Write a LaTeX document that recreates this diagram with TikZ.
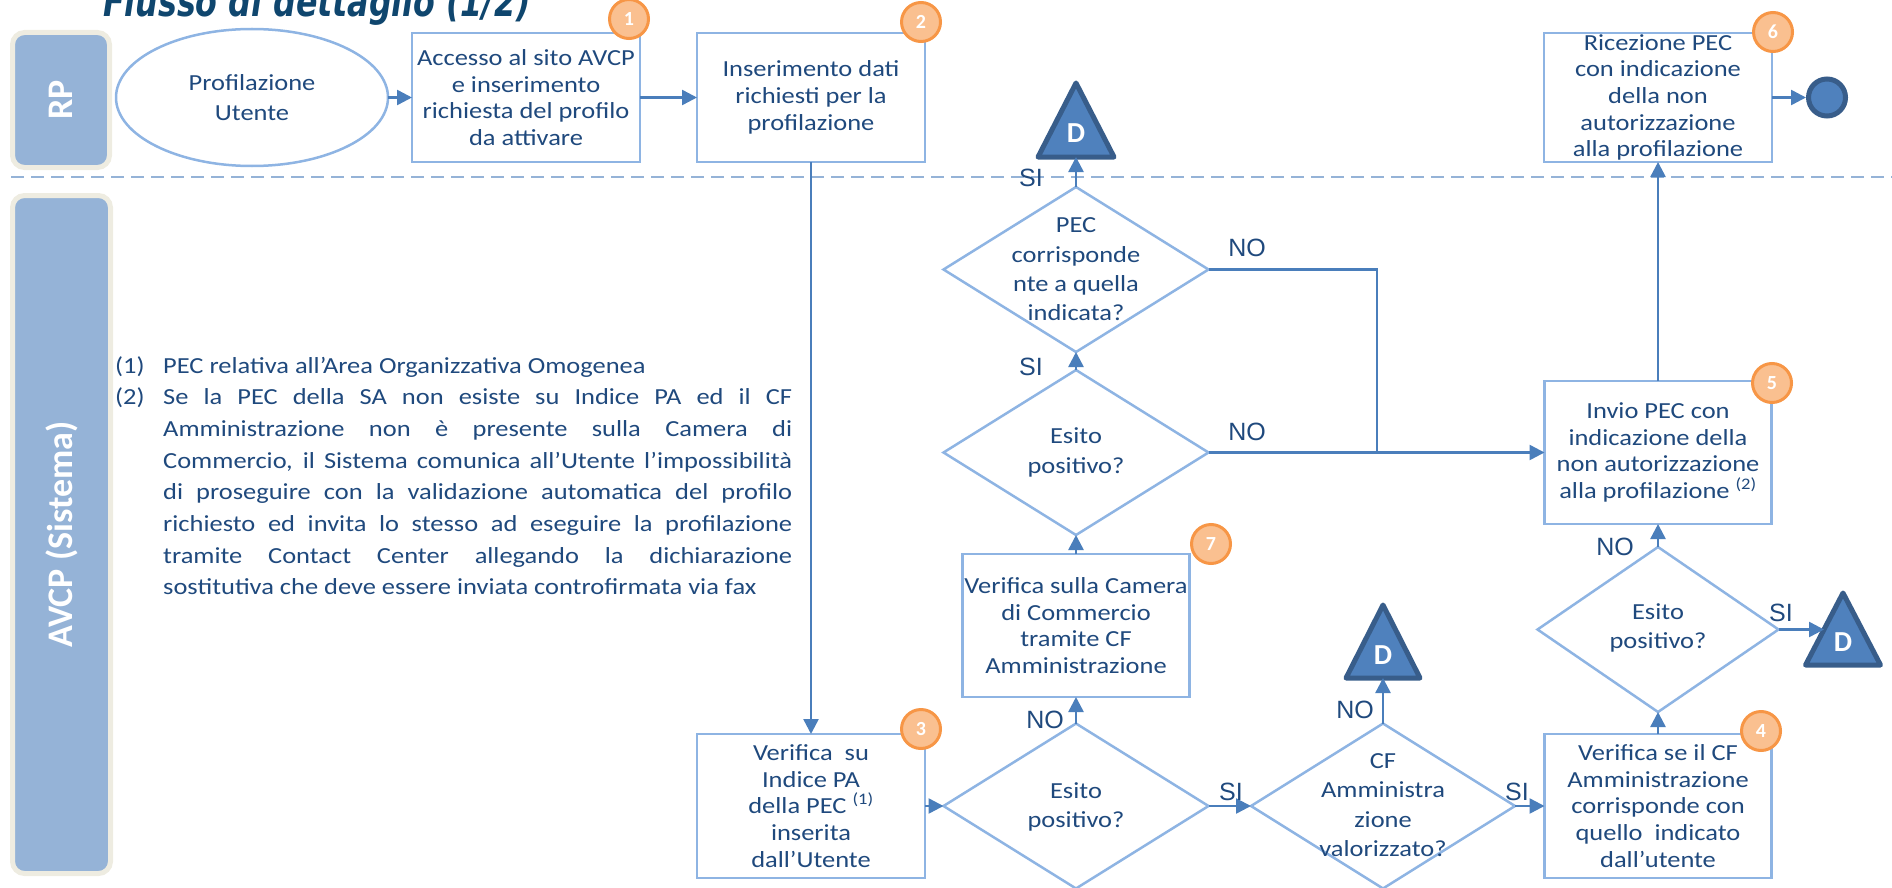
\documentclass[tikz,border=0pt]{standalone}
\usepackage{fontspec}
\setmainfont{Carlito}
\newfontfamily\bxfont[FakeStretch=1.15]{Carlito}
\newfontfamily\lblfont{Liberation Sans}
\newfontfamily\ttlfont{DejaVu Sans}
\usetikzlibrary{shapes.geometric,arrows.meta}
\definecolor{txtc}{HTML}{1F497D}
\definecolor{ttlc}{HTML}{0F466E}
\definecolor{boxc}{HTML}{8EB4E3}
\definecolor{arrc}{HTML}{4A7EBB}
\definecolor{lanec}{HTML}{95B3D7}
\definecolor{laneb}{HTML}{EEECE1}
\definecolor{dfillc}{HTML}{4F81BD}
\definecolor{dlinec}{HTML}{385D8A}
\definecolor{numf}{HTML}{FAC090}
\definecolor{numb}{HTML}{F79646}
\definecolor{dashc}{HTML}{95B3D7}
\begin{document}
\begin{tikzpicture}[x=1pt,y=-1pt,
  box/.style={rectangle, draw=boxc, line width=2.5pt, fill=white, align=center, text=txtc, inner sep=0pt, outer sep=0pt, font=\fontsize{23}{26.7}\bxfont},
  ellbox/.style={ellipse, draw=boxc, line width=2.5pt, fill=white, align=center, text=txtc, inner sep=0pt, outer sep=0pt, font=\fontsize{23}{30}\bxfont},
  dia/.style={diamond, draw=boxc, line width=2.5pt, fill=white, inner sep=0pt, outer sep=0pt},
  dtxt/.style={align=center, text=txtc, inner sep=0pt, font=\fontsize{23}{29.3}\bxfont},
  arr/.style={draw=arrc, line width=2.5pt, -{Triangle[length=15pt,width=15pt]}},
  lin/.style={draw=arrc, line width=2.5pt},
  lbl/.style={text=txtc, inner sep=0pt, font=\fontsize{25}{30}\lblfont},
  num/.style={circle, fill=numf, draw=numb, line width=3pt, minimum size=39pt, inner sep=0pt, text=white, font=\fontsize{20}{24}\selectfont\bfseries},
  dtri/.style={fill=dfillc, draw=dlinec, line width=5pt, line join=round},
  dlet/.style={text=white, inner sep=0pt, font=\fontsize{29}{30}\selectfont\bfseries},
  endc/.style={circle, fill=dfillc, draw=dlinec, line width=5pt, minimum size=37pt, inner sep=0pt},
  lane/.style={rectangle, fill=lanec, draw=laneb, line width=5pt, rounded corners=12pt, rotate=90, text=white, inner sep=0pt, font=\fontsize{36}{40}\selectfont\bfseries},
  sep/.style={draw=dashc, line width=2.5pt, dash pattern=on 13pt off 7pt},
  notes/.style={text=txtc, inner sep=0pt, text width=677pt, align=justify, font=\fontsize{23}{31.7}\bxfont}
]
\useasboundingbox (0,0) rectangle (1892,888);

% title
\node[anchor=base west, inner sep=0pt, text=ttlc, font=\fontsize{36}{40}\ttlfont\bfseries\itshape] (title) at (103,17) {\scalebox{0.88}[1.15]{Flusso di dettaglio (1/2)}};

% lanes
\node[lane, minimum width=135pt, minimum height=97pt] (laneRP) at (61,100) {RP};
\node[lane, minimum width=678pt, minimum height=98pt] (laneSys) at (61.5,534.5) {AVCP (Sistema)};

% separator
\coordinate (sepL) at (11,177);
\coordinate (sepR) at (1892,177);
\draw[sep] (sepL) -- (sepR);

% RP row
\node[ellbox, minimum width=272pt, minimum height=137pt] (ell) at (252,97.5) {Profilazione\\Utente};
\node[box, minimum width=228pt, minimum height=129pt] (b1) at (526,97.5) {Accesso al sito AVCP\\e inserimento\\richiesta del profilo\\da attivare};
\node[box, minimum width=228pt, minimum height=129pt] (b2) at (811,97.5) {Inserimento dati\\richiesti per la\\profilazione};
\node[box, minimum width=228pt, minimum height=129pt] (b6) at (1658,97.5) {Ricezione PEC\\con indicazione\\della non\\autorizzazione\\alla profilazione};
\node[endc] (end) at (1827,97.5) {};

% system row
\node[box, minimum width=228pt, minimum height=144pt] (b3) at (811,806) {Verifica\ \ su\\Indice PA\\della PEC \textsuperscript{(1)}\\inserita\\dall’Utente};
\node[box, minimum width=227pt, minimum height=143pt] (b7) at (1076,625.5) {Verifica sulla Camera\\di Commercio\\tramite CF\\Amministrazione};
\node[box, minimum width=227pt, minimum height=143pt] (b5) at (1658,452.5) {Invio PEC con\\indicazione della\\non autorizzazione\\alla profilazione \textsuperscript{(2)}};
\node[box, minimum width=227pt, minimum height=144pt] (b4) at (1658,806) {Verifica se il CF\\Amministrazione\\corrisponde con\\quello\ \ indicato\\dall’utente};

% diamonds
\node[dia, minimum width=265pt, minimum height=165pt] (d1) at (1076,806) {};
\node[dtxt] (d1t) at (1076,807) {Esito\\positivo?};
\node[dia, minimum width=264pt, minimum height=165pt] (dCF) at (1383,806) {};
\node[dtxt] (dCFt) at (1383,805) {CF\\Amministra\\zione\\valorizzato?};
\node[dia, minimum width=265pt, minimum height=165pt] (d3) at (1076,452.5) {};
\node[dtxt] (d3t) at (1076,452.5) {Esito\\positivo?};
\node[dia, minimum width=265pt, minimum height=165pt] (d2) at (1076,269.5) {};
\node[dtxt] (d2t) at (1076,269.5) {PEC\\corrisponde\\nte a quella\\indicata?};
\node[dia, minimum width=241pt, minimum height=165pt] (dR) at (1658,629.5) {};
\node[dtxt] (dRt) at (1658,628) {Esito\\positivo?};

% D triangles
\coordinate (DtopB) at (1076,157);
\draw[dtri] (DtopB) ++(-38,0) -- ++(38,-74) -- ++(38,74) -- cycle;
\node[dlet] (Dtop) at (1076,133) {D};
\coordinate (DmidB) at (1383,678);
\draw[dtri] (DmidB) ++(-37,0) -- ++(37,-73) -- ++(37,73) -- cycle;
\node[dlet] (Dmid) at (1383,655) {D};
\coordinate (DrightB) at (1843,665);
\coordinate (DrightL) at (1824,629.5);
\draw[dtri] (DrightB) ++(-37.5,0) -- ++(37.5,-72) -- ++(37.5,72) -- cycle;
\node[dlet] (Dright) at (1843,642) {D};

% number badges
\node[num] (n1) at (629,19) {1};
\node[num] (n2) at (921,22) {2};
\node[num] (n3) at (921,729) {3};
\node[num] (n4) at (1761,731) {4};
\node[num] (n5) at (1772,383) {5};
\node[num] (n6) at (1773,32) {6};
\node[num] (n7) at (1211,544) {7};

% connectors
\coordinate (J) at (1377,452.5);
\draw[arr] (ell.east) -- (b1.west);
\draw[arr] (b1.east) -- (b2.west);
\draw[arr] (b2.south) -- (b3.north);
\draw[arr] (b3.east) -- (d1.west);
\draw[arr] (d1.north) -- (b7.south);
\draw[arr] (d1.east) -- (dCF.west);
\draw[arr] (b7.north) -- (d3.south);
\draw[arr] (d3.north) -- (d2.south);
\draw[arr] (d2.north) -- (DtopB);
\draw[lin] (d2.east) -| (J);
\draw[arr] (d3.east) -- (b5.west);
\draw[arr] (dCF.north) -- (DmidB);
\draw[arr] (dCF.east) -- (b4.west);
\draw[arr] (b4.north) -- (dR.south);
\draw[arr] (dR.north) -- (b5.south);
\draw[arr] (dR.east) -- (DrightL);
\draw[arr] (b5.north) -- (b6.south);
\draw[arr] (b6.east) -- (end.west);

% labels
\node[lbl] (l1) at (1031,178) {SI};
\node[lbl] (l2) at (1031,367) {SI};
\node[lbl] (l3) at (1247,248) {NO};
\node[lbl] (l4) at (1247,432) {NO};
\node[lbl] (l5) at (1045,720) {NO};
\node[lbl] (l6) at (1231,792) {SI};
\node[lbl] (l7) at (1355,710) {NO};
\node[lbl] (l8) at (1517,792) {SI};
\node[lbl] (l9) at (1615,547) {NO};
\node[lbl] (l10) at (1781,613) {SI};

% notes
\node[notes, anchor=north west] (notes) at (115,356) {\tolerance=10000\hbadness=10000\hyphenpenalty=10000\noindent\makebox[48pt][l]{(1)}PEC relativa all’Area Organizzativa Omogenea\par
\noindent\hangindent=48pt\hangafter=1\makebox[48pt][l]{(2)}Se la PEC della SA non esiste su Indice PA ed il CF\linebreak Amministrazione non è presente sulla Camera di\linebreak Commercio, il Sistema comunica all’Utente l’impossibilità\linebreak di proseguire con la validazione automatica del profilo\linebreak richiesto ed invita lo stesso ad eseguire la profilazione\linebreak tramite Contact Center allegando la dichiarazione\linebreak sostitutiva che deve essere inviata controfirmata via fax\par};
\end{tikzpicture}
\end{document}
